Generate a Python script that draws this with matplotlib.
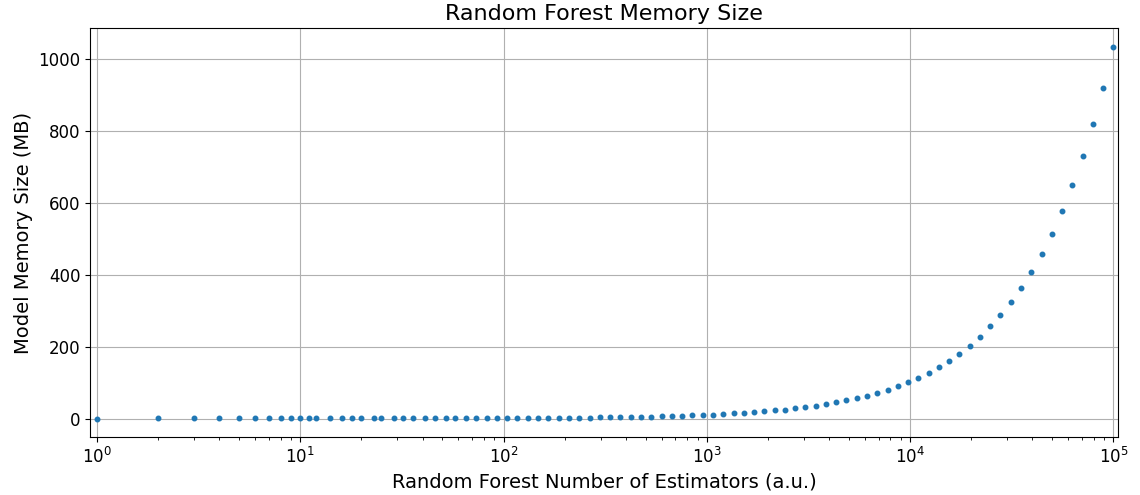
import matplotlib
matplotlib.use("Agg")
import matplotlib.pyplot as plt

n_estimators = [1, 2, 3, 4, 5, 6, 7, 8, 9, 10, 11, 12, 14, 16, 18, 20, 23, 25, 29, 32,
                36, 41, 46, 52, 58, 65, 73, 83, 93, 104, 117, 132, 148, 166, 187, 210,
                236, 265, 298, 335, 376, 422, 475, 533, 599, 673, 756, 849, 954, 1072,
                1204, 1353, 1519, 1707, 1917, 2154, 2420, 2718, 3053, 3430, 3853, 4328,
                4862, 5462, 6135, 6892, 7742, 8697, 9770, 10974, 12328, 13848, 15556,
                17475, 19630, 22051, 24770, 27825, 31257, 35111, 39442, 44306, 49770,
                55908, 62802, 70548, 79248, 89021, 100000]

memory_mb = [0.01, 0.02, 0.03, 0.04, 0.05, 0.06, 0.07, 0.08, 0.09, 0.1, 0.11, 0.12,
             0.15, 0.17, 0.19, 0.21, 0.24, 0.26, 0.3, 0.33, 0.37, 0.42, 0.48, 0.54,
             0.6, 0.67, 0.76, 0.86, 0.96, 1.08, 1.21, 1.37, 1.53, 1.72, 1.94, 2.17,
             2.44, 2.74, 3.08, 3.47, 3.89, 4.37, 4.92, 5.52, 6.2, 6.97, 7.82, 8.79,
             9.87, 11.1, 12.5, 14.0, 15.7, 17.7, 19.8, 22.3, 25.0, 28.1, 31.6, 35.5,
             39.9, 44.8, 50.3, 56.5, 63.5, 71.3, 80.1, 90.0, 101.1, 113.6, 127.6,
             143.3, 161.0, 180.9, 203.2, 228.2, 256.4, 288.0, 323.5, 363.4, 408.2,
             458.6, 515.1, 578.6, 650.0, 730.2, 820.2, 921.4, 1035.0]

fig, ax = plt.subplots(figsize=(11.4, 4.95), dpi=100)
fig.subplots_adjust(left=0.079, right=0.981, top=0.943, bottom=0.117)

ax.plot(n_estimators, memory_mb, '.', color='#1f77b4', markersize=6.5)
ax.set_xscale('log')
ax.set_xlim(0.924, 1.058e5)
ax.grid(True, which='major', color='#b0b0b0', linewidth=0.8)
ax.set_axisbelow(True)

ax.set_title('Random Forest Memory Size', fontsize=16)
ax.set_xlabel('Random Forest Number of Estimators (a.u.)', fontsize=14)
ax.set_ylabel('Model Memory Size (MB)', fontsize=14)
ax.tick_params(axis='both', which='major', labelsize=12)

fig.savefig('out.png', dpi=100)
